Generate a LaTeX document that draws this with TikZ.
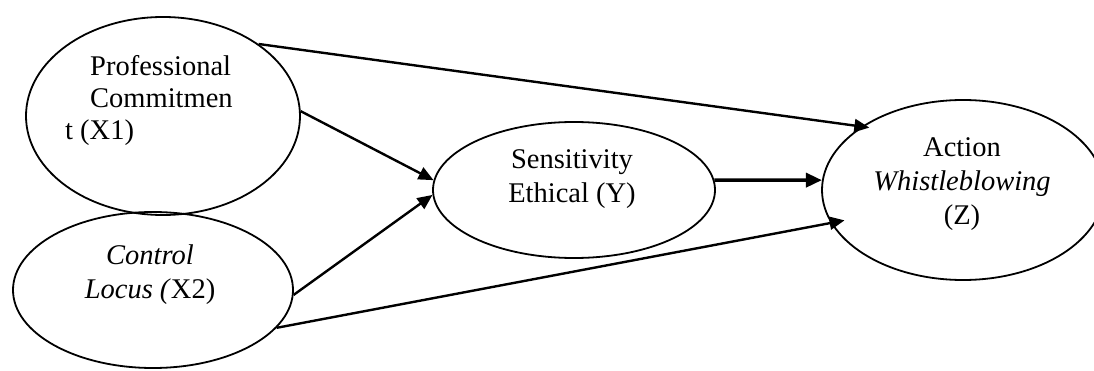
\documentclass[tikz,border=0pt]{standalone}
\usepackage{fontspec}
\setmainfont{Liberation Serif}
\usetikzlibrary{shapes.geometric,arrows.meta}
\begin{document}
\begin{tikzpicture}[x=1pt,y=1pt,
  oval/.style={draw,ellipse,line width=1.8pt,inner sep=0pt},
  lbl/.style={inner sep=0pt},
  arr/.style={line width=2.4pt,-{Triangle[length=15pt,width=13pt]}},
  arrthick/.style={line width=3.6pt,-{Triangle[length=16pt,width=14pt]}}]
\useasboundingbox (0,0) rectangle (1094,370);
\node[oval,minimum width=274pt,minimum height=198pt] (x1) at (163,254) {};
\node[oval,minimum width=280pt,minimum height=156pt] (x2) at (153,80) {};
\node[oval,minimum width=282pt,minimum height=136pt] (y) at (574,180) {};
\node[oval,minimum width=282pt,minimum height=180pt] (z) at (963,180) {};
% texts
\node[lbl,align=left,anchor=north west,font=\fontsize{28.5}{32}\selectfont] (x1t) at (65,315) {\hspace*{25pt}Professional\\ \hspace*{25pt}Commitmen\\ t (X1)};
\node[lbl,align=center,anchor=north,font=\fontsize{28.5}{34}\selectfont] (x2t) at (150,125) {\textit{Control}\\ \textit{Locus (}X2)};
\node[lbl,align=center,anchor=north,font=\fontsize{28.5}{34}\selectfont] (yt) at (572,221) {Sensitivity\\ Ethical (Y)};
\node[lbl,align=center,anchor=north,font=\fontsize{28.5}{34}\selectfont] (zt) at (962,233) {Action\\ \textit{Whistleblowing}\\ (Z)};
% connectors
\draw[arr,shorten >=-8pt] (x1.37) -- (z.148);
\draw[arr] (x1.2) -- (y.176);
\draw[arr] (x2.358) -- (y.182);
\draw[arr,shorten >=-14pt] (x2.343) -- (z.194);
\draw[arrthick] (y.4) -- (z.176);
\end{tikzpicture}
\end{document}
